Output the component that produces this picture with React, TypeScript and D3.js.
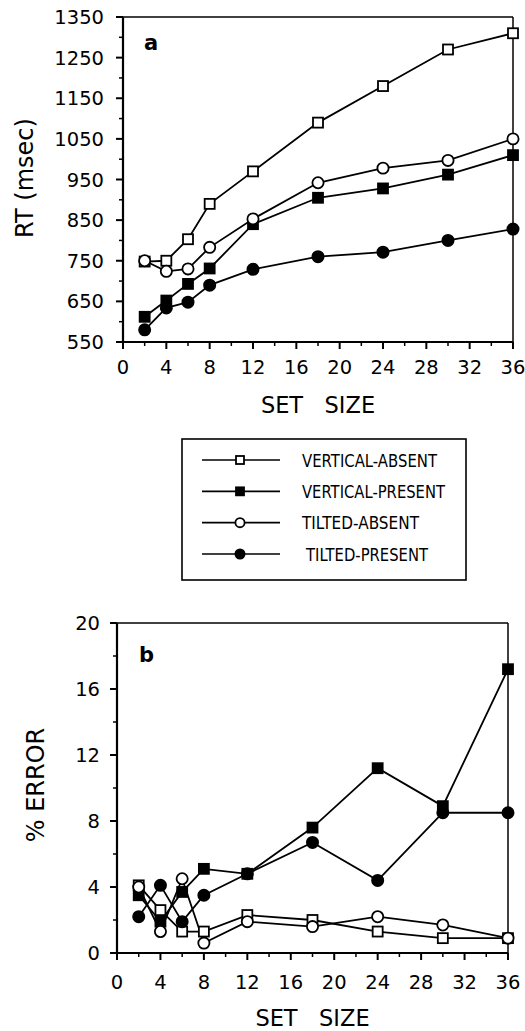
import React from 'react';
import * as d3 from 'd3';

// set sizes shared by both panels
const setSizes = [2, 4, 6, 8, 12, 18, 24, 30, 36];

// panel a: RT (msec)
const rtVertAbsent = [748, 750, 803, 890, 970, 1090, 1180, 1270, 1310];
const rtVertPresent = [612, 652, 693, 731, 840, 905, 928, 962, 1010];
const rtTiltAbsent = [750, 724, 730, 783, 853, 942, 978, 997, 1050];
const rtTiltPresent = [580, 634, 648, 690, 729, 760, 771, 800, 828];

// panel b: % error
const errVertAbsent = [4.1, 2.6, 1.3, 1.3, 2.3, 2.0, 1.3, 0.9, 0.9];
const errVertPresent = [3.5, 1.9, 3.7, 5.1, 4.8, 7.6, 11.2, 8.9, 17.2];
const errTiltAbsent = [4.0, 1.3, 4.5, 0.6, 1.9, 1.6, 2.2, 1.7, 0.9];
const errTiltPresent = [2.2, 4.1, 1.9, 3.5, 4.8, 6.7, 4.4, 8.5, 8.5];

const seriesNames = ['VERTICAL - ABSENT', 'VERTICAL - PRESENT', 'TILTED - ABSENT', 'TILTED - PRESENT'];
const seriesShapes = ['square', 'square', 'circle', 'circle'];
const seriesFilled = [false, true, false, true];

const xTicks = [0, 4, 8, 12, 16, 20, 24, 28, 32, 36];
const rtTicks = [550, 650, 750, 850, 950, 1050, 1150, 1250, 1350];
const errTicks = [0, 4, 8, 12, 16, 20];

const FONT = '"DejaVu Sans", sans-serif';

function Marker({ x, y, shape, filled, size }) {
  if (shape === 'square') {
    return (
      <rect x={x - size} y={y - size} width={size * 2} height={size * 2}
        fill={filled ? '#000' : '#fff'} stroke="#000" strokeWidth={1.8} />
    );
  }
  return <circle cx={x} cy={y} r={size + 0.6} fill={filled ? '#000' : '#fff'} stroke="#000" strokeWidth={1.8} />;
}

function Panel({ data, yDomain, yTicks, xRange, yRange, letter, letterPos, yLabel, yLabelPos, xLabelY, xTickY, yLabelGap }) {
  const x = d3.scaleLinear().domain([0, 36]).range(xRange);
  const y = d3.scaleLinear().domain(yDomain).range(yRange);
  const line = d3.line<number>().x((d, i) => x(setSizes[i])).y(d => y(d));
  const step = yTicks[1] - yTicks[0];
  const yMinor = yTicks.slice(0, -1).map(t => t + step / 2);
  const xMinor = xTicks.slice(0, -1).map(t => t + 2);

  return (
    <g>
      {/* frame */}
      <line x1={xRange[0]} x2={xRange[1]} y1={yRange[1]} y2={yRange[1]} stroke="#000" strokeWidth={1.5} />
      <line x1={xRange[1]} x2={xRange[1]} y1={yRange[0]} y2={yRange[1]} stroke="#000" strokeWidth={1.5} />
      <line x1={xRange[0]} x2={xRange[1]} y1={yRange[0]} y2={yRange[0]} stroke="#000" strokeWidth={2.2} />
      <line x1={xRange[0]} x2={xRange[0]} y1={yRange[0]} y2={yRange[1]} stroke="#000" strokeWidth={2.2} />

      {/* y ticks */}
      {yTicks.map(t => (
        <g key={'y' + t}>
          <line x1={xRange[0] - 7} x2={xRange[0]} y1={y(t)} y2={y(t)} stroke="#000" strokeWidth={2} />
          <text x={xRange[0] - yLabelGap} y={y(t) + 7} textAnchor="end" fontSize={19.5} fontFamily={FONT}>{t}</text>
        </g>
      ))}
      {yMinor.map(t => (
        <line key={'ym' + t} x1={xRange[0] - 4} x2={xRange[0]} y1={y(t)} y2={y(t)} stroke="#000" strokeWidth={1.5} />
      ))}

      {/* x ticks */}
      {xTicks.map(t => (
        <g key={'x' + t}>
          <line x1={x(t)} x2={x(t)} y1={yRange[0]} y2={yRange[0] + 7} stroke="#000" strokeWidth={2} />
          <text x={x(t)} y={xTickY} textAnchor="middle" fontSize={19.5} fontFamily={FONT}>{t}</text>
        </g>
      ))}
      {xMinor.map(t => (
        <line key={'xm' + t} x1={x(t)} x2={x(t)} y1={yRange[0]} y2={yRange[0] + 4} stroke="#000" strokeWidth={1.5} />
      ))}

      {/* series */}
      {data.map((vals, si) => (
        <path key={'l' + si} d={line(vals)} fill="none" stroke="#000" strokeWidth={1.8} />
      ))}
      {data.map((vals, si) => vals.map((v, i) => (
        <Marker key={'m' + si + '-' + i} x={x(setSizes[i])} y={y(v)} shape={seriesShapes[si]} filled={seriesFilled[si]} size={5} />
      )))}

      <text x={letterPos[0]} y={letterPos[1]} fontSize={21} fontWeight="bold" fontFamily={FONT}>{letter}</text>

      <text transform={`translate(${yLabelPos[0]},${yLabelPos[1]}) rotate(-90)`} textAnchor="middle"
        fontSize={24} fontFamily={FONT} style={{ whiteSpace: 'pre' }}>{yLabel}</text>
      <text x={(xRange[0] + xRange[1]) / 2} y={xLabelY} textAnchor="middle" fontSize={22.5} fontFamily={FONT}
        style={{ whiteSpace: 'pre' }}>{'SET   SIZE'}</text>
    </g>
  );
}

function Legend() {
  const rowY = d3.scaleLinear().domain([0, 3]).range([460, 554]);
  const widths = [135, 143, 117, 122];
  return (
    <g>
      <rect x={182} y={439} width={284} height={141} fill="none" stroke="#000" strokeWidth={1.6} />
      {seriesNames.map((name, i) => (
        <g key={name}>
          <line x1={202} x2={280} y1={rowY(i)} y2={rowY(i)} stroke="#000" strokeWidth={1.6} />
          <Marker x={240} y={rowY(i)} shape={seriesShapes[i]} filled={seriesFilled[i]} size={4} />
          <text x={i === 3 ? 306 : 302} y={rowY(i) + 6.5} fontSize={18} fontFamily={FONT} textLength={widths[i]}
            lengthAdjust="spacingAndGlyphs" style={{ whiteSpace: 'pre' }}>{name.replace(/ - /g, '-')}</text>
        </g>
      ))}
    </g>
  );
}

export default function App() {
  return (
    <svg width={525} height={1031} style={{ position: 'absolute', left: 0, top: 0, background: '#fff' }}>
      <Panel
        data={[rtVertAbsent, rtVertPresent, rtTiltAbsent, rtTiltPresent]}
        yDomain={[550, 1350]} yTicks={rtTicks}
        xRange={[123, 513]} yRange={[342, 17]}
        letter="a" letterPos={[144, 50]}
        yLabel="RT (msec)" yLabelPos={[33, 178]}
        xLabelY={413} xTickY={374} yLabelGap={19}
      />
      <Legend />
      <Panel
        data={[errVertAbsent, errVertPresent, errTiltAbsent, errTiltPresent]}
        yDomain={[0, 20]} yTicks={errTicks}
        xRange={[117, 508]} yRange={[953, 623]}
        letter="b" letterPos={[139, 662]}
        yLabel="% ERROR" yLabelPos={[44, 785]}
        xLabelY={1026} xTickY={989} yLabelGap={17}
      />
    </svg>
  );
}
